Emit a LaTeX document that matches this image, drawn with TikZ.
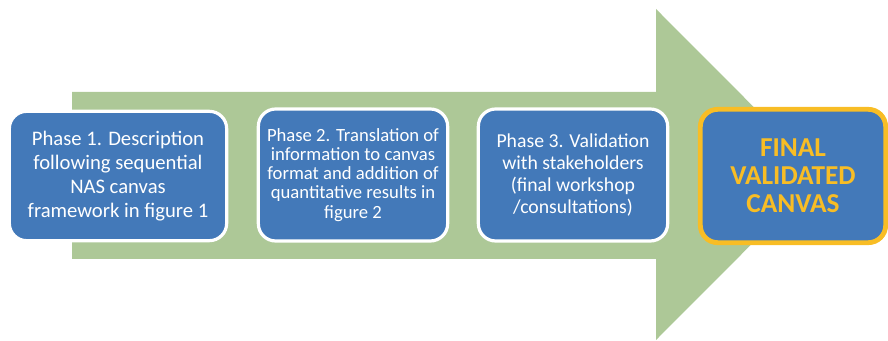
\documentclass[tikz,border=0pt]{standalone}
\usepackage{fontspec}
\setmainfont{Carlito}
\definecolor{arrowgreen}{HTML}{ADC897}
\definecolor{phaseblue}{HTML}{4379B9}
\definecolor{finalgold}{HTML}{F8BD25}

\begin{document}
\begin{tikzpicture}[x=0.75pt, y=-0.75pt,
  phase/.style={draw=white, line width=2.4pt, fill=phaseblue, rounded corners=13pt,
    text=white, align=center, minimum width=162pt, minimum height=97pt, inner sep=0pt},
  final/.style={phase, draw=finalgold, line width=3.6pt, text=finalgold,
    minimum width=139pt, minimum height=100pt, font=\bfseries\fontsize{20.5}{21}\selectfont}]
\useasboundingbox (0,0) rectangle (888,341);

% big arrow behind the phases
\fill[arrowgreen] (72,92) -- (656,92) -- (656,9) -- (821,174.5) -- (656,340) -- (656,259) -- (72,259) -- cycle;

\node[phase, minimum width=163pt, font=\fontsize{15.5}{18}\selectfont] (p1) at (118,176)
  {Phase 1. Description\\following sequential\\NAS canvas\\framework in figure 1};
\node[phase, minimum width=142pt, minimum height=99pt, font=\fontsize{14}{14.3}\selectfont] (p2) at (353,175)
  {Phase 2. Translation of\\information to canvas\\format and addition of\\quantitative results in\\figure 2};
\node[phase, minimum width=142pt, minimum height=99pt, font=\fontsize{14.8}{16.5}\selectfont] (p3) at (573,175)
  {Phase 3. Validation\\with stakeholders\\(final workshop\\/consultations)};
\node[final] (fin) at (793,176) {FINAL\\VALIDATED\\CANVAS};

\end{tikzpicture}
\end{document}
